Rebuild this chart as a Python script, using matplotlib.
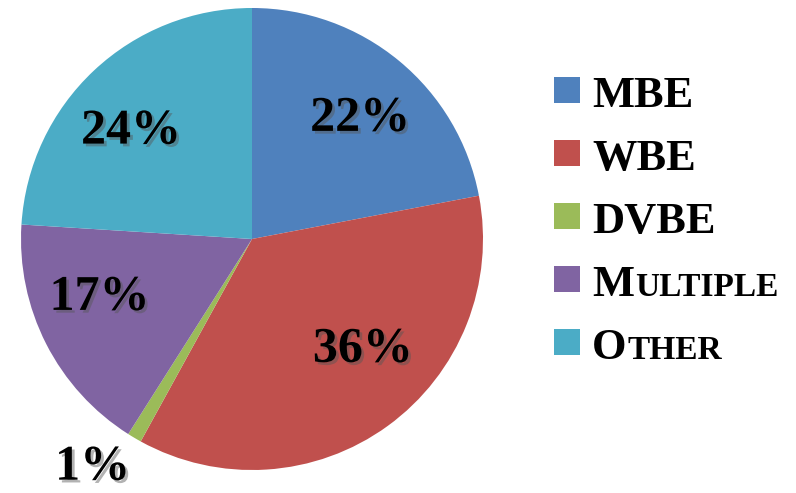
import matplotlib.pyplot as plt
import matplotlib.patheffects as pe
from matplotlib.patches import Rectangle

categories = ['MBE', 'WBE', 'DVBE', 'Multiple', 'Other']
values = [22, 36, 1, 17, 24]
colors = ['#4F81BD', '#C0504D', '#9BBB59', '#8064A2', '#4BACC6']
# legend text as (big first letter, small-caps remainder)
legend_text = [('MBE', ''), ('WBE', ''), ('DVBE', ''), ('M', 'ULTIPLE'), ('O', 'THER')]

# label positions in pie units (radius = 1)
label_pos = [(0.468, 0.52), (0.48, -0.48), (-0.69, -0.99), (-0.66, -0.255), (-0.524, 0.465)]

W, H = 796, 493
fig = plt.figure(figsize=(W / 100, H / 100), dpi=100)

# pie axes: centre (252, 239), radius 231 px
cx, cy, r = 252, 239, 231
ax = fig.add_axes([(cx - r) / W, (H - cy - r) / H, 2 * r / W, 2 * r / H])
ax.pie(values, colors=colors, startangle=90, counterclock=False, radius=1,
       wedgeprops=dict(linewidth=0))
ax.set_xlim(-1, 1)
ax.set_ylim(-1, 1)
ax.set_aspect('equal')
ax.axis('off')

shadow = [pe.SimplePatchShadow(offset=(2, -2), shadow_rgbFace='#555555', alpha=0.45), pe.Normal()]
font = 'Liberation Serif'

for v, (x, y) in zip(values, label_pos):
    ax.text(x, y, f'{v}%', ha='center', va='center', fontsize=36, fontweight='bold',
            family=font, color='black', path_effects=shadow, clip_on=False)

# legend drawn by hand
sq_x, sq_w = 554, 26
txt_x = 592
base0, step = 107, 63
texts = []
for i, (c, (big, small)) in enumerate(zip(colors, legend_text)):
    base = base0 + i * step
    fig.add_artist(Rectangle((sq_x / W, (H - (base - 4)) / H), sq_w / W, sq_w / H,
                             transform=fig.transFigure, facecolor=c, edgecolor='none'))
    t = fig.text(txt_x / W, (H - base) / H, big, ha='left', va='baseline',
                 fontsize=32, fontweight='bold', family=font, color='black')
    texts.append((t, small, base))

fig.canvas.draw()
for t, small, base in texts:
    if small:
        bb = t.get_window_extent()
        fig.text(bb.x1 / W + 1 / W, (H - base) / H, small, ha='left', va='baseline',
                 fontsize=24, fontweight='bold', family=font, color='black')

fig.savefig('out.png', dpi=100)
